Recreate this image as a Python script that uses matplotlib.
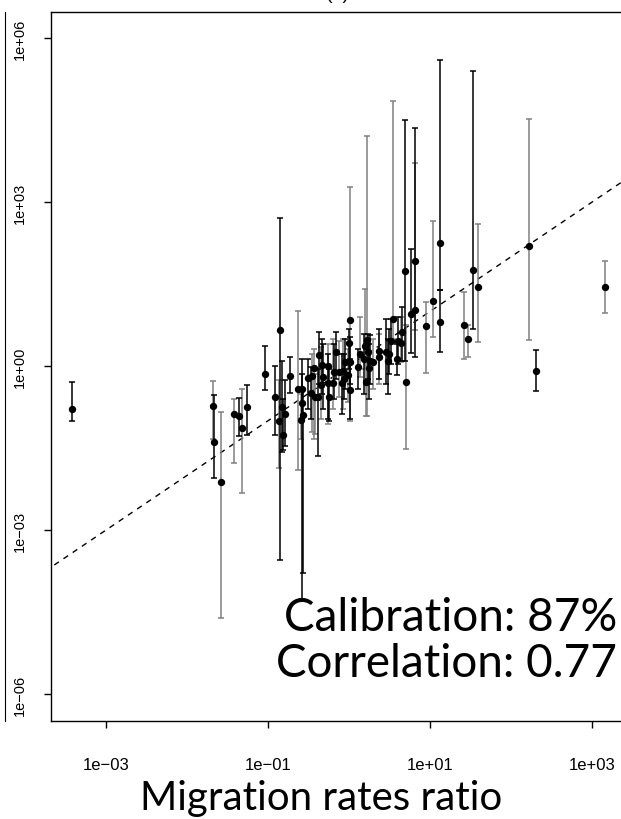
import numpy as np
import matplotlib
matplotlib.use("Agg")
import matplotlib.pyplot as plt

# log10 of the true migration rate ratio (x), estimate (y) and its interval
x_log = [-3.416, -1.680, -1.664, -1.578, -1.421, -1.356, -1.322, -1.261, -1.039, -0.850,
         -0.908, -0.825, -0.859, -0.788, -0.809, -0.730, -0.632, -0.575, -0.582, -0.570,
         -0.590, -0.501, -0.455, -0.430, -0.464, -0.418, -0.385, -0.365, -0.344, -0.319,
         -0.328, -0.254, -0.254, -0.245, -0.200, -0.180, -0.159, -0.126, -0.089, -0.069,
         -0.060, -0.048, -0.007, 0.005, 0.014, 0.010, 0.020, 0.112, 0.137, 0.186,
         0.202, 0.227, 0.236, 0.248, 0.211, 0.260, 0.294, 0.368, 0.375, 0.458,
         0.491, 0.479, 0.519, 0.544, 0.597, 0.609, 0.643, 0.659, 0.692, 0.704,
         0.770, 0.815, 0.815, 0.951, 1.034, 1.127, 1.127, 1.420, 1.465, 1.534,
         1.589, 2.222, 2.312, 3.159]
y_log = [-0.787, -0.732, -1.385, -2.116, -0.873, -0.909, -1.129, -0.744, -0.141, 0.659,
         -0.554, -0.744, -1.006, -0.865, -1.249, -0.183, -0.408, -0.421, -0.677, -0.891,
         -0.975, -0.214, -0.188, -0.042, -0.481, -0.554, -0.554, 0.201, -0.335, -0.196,
         0.018, -0.005, -0.311, -0.554, -0.316, -0.104, 0.256, -0.104, -0.316, -0.091,
         -0.225, 0.068, -0.152, 0.415, 0.836, -0.439, 0.068, -0.018, 0.220, 0.128,
         0.371, 0.481, 0.251, -0.024, -0.298, 0.097, 0.068, 0.280, 0.170, 0.262,
         0.220, 0.091, 0.463, 0.860, 0.134, 0.463, 0.421, 0.627, 1.732, -0.280,
         0.951, 1.915, 1.019, 0.726, 1.194, 2.250, 0.799, 0.750, 0.494, 1.756,
         1.451, 2.195, -0.086, 1.445]
hi_log = [-0.293, -0.269, -0.518, -0.829, -0.591, -0.585, -0.408, -0.348, 0.371, 2.707,
          -0.005, 0.091, -0.256, -0.256, -0.604, 0.177, 1.012, 0.123, -0.146, -0.421,
          -0.512, 0.128, 0.220, 0.311, -0.018, -0.146, -0.055, 0.622, 0.348, 0.402,
          0.494, 0.402, 0.220, -0.055, 0.494, 0.402, 0.622, 0.457, 0.220, 0.494,
          0.220, 0.494, 0.311, 0.677, 3.280, 0.128, 0.530, 0.311, 0.896, 0.585,
          1.409, 4.207, 0.585, 0.402, 0.128, 0.567, 0.494, 0.677, 0.585, 0.860,
          0.677, 0.494, 0.860, 4.853, 0.402, 0.896, 0.896, 1.079, 4.500, 0.755,
          2.146, 4.359, 3.719, 1.171, 2.647, 5.592, 1.396, 1.359, 0.750, 5.396,
          2.603, 4.518, 0.293, 1.926]
lo_log = [-1.006, -1.335, -2.049, -4.597, -1.774, -1.275, -2.318, -1.249, -0.434, -3.549,
          -1.249, -1.568, -1.860, -1.458, -1.537, -0.494, -1.890, -0.969, -4.262, -3.774,
          -1.335, -0.787, -1.207, -1.335, -0.969, -1.244, -1.641, -0.329, -0.969, -0.787,
          -0.512, -1.061, -0.969, -1.006, -0.787, -0.604, -0.238, -0.567, -0.878, -0.787,
          -0.604, -0.421, -0.659, -0.055, -1.001, -0.969, -0.329, -0.421, -0.201, -0.512,
          -0.055, -0.909, -0.238, -0.604, -0.909, -0.329, -0.421, -0.238, -0.329, -0.329,
          -0.146, -0.512, 0.037, 0.494, -0.165, 0.037, 0.073, 0.091, 0.086, -1.518,
          0.238, 0.170, 0.659, -0.128, 0.536, 1.396, 0.251, 0.123, 0.177, 0.677,
          0.434, 0.476, -0.452, 0.975]
# interval colour as seen in the picture: k = black, g = grey
bar_col = list("kgkggkgkkk"
               "kkgkkkgkkk"
               "gkggkgkkgk"
               "kgkkgkkgkg"
               "kkgkgkkkgk"
               "ggkkgkgkgk"
               "kkkgkkgkkg"
               "kkgggkkggk"
               "ggkg")

x_ticks = [1e-3, 1e-1, 1e1, 1e3]
x_tick_labels = ["1e\u221203", "1e\u221201", "1e+01", "1e+03"]
y_ticks = [1e-6, 1e-3, 1e0, 1e3, 1e6]
y_tick_labels = ["1e\u221206", "1e\u221203", "1e+00", "1e+03", "1e+06"]

x = 10 ** np.array(x_log)
y = 10 ** np.array(y_log)
hi = 10 ** np.array(hi_log)
lo = 10 ** np.array(lo_log)
col = np.array(bar_col)

fig = plt.figure(figsize=(6.21, 8.2), dpi=100)

# right edge of the neighbouring panel, cut by the crop
left = fig.add_axes([-0.5, 0.1199, 0.5 + 5 / 621, 0.8646])
for s in ["top", "bottom", "left"]:
    left.spines[s].set_visible(False)
left.set_xticks([])
left.set_yticks([])

ax = fig.add_axes([0.0816, 0.1199, 0.9269, 0.8646])
ax.set_xscale("log")
ax.set_yscale("log")
ax.set_xlim(10 ** -3.678, 10 ** 3.422)
ax.set_ylim(10 ** -6.48, 10 ** 6.48)

# identity line
ax.plot([1e-5, 1e5], [1e-5, 1e5], color="black", lw=1, ls=(0, (4, 4)))

for c, ec in [("g", "#808080"), ("k", "black")]:
    m = col == c
    ax.errorbar(x[m], y[m], yerr=[y[m] - lo[m], hi[m] - y[m]], fmt="none",
                ecolor=ec, elinewidth=1.1, capsize=2.5, capthick=1.1)
ax.plot(x, y, "o", color="black", ms=5.3, mew=0)

ax.set_xticks(x_ticks)
ax.set_xticklabels(x_tick_labels, fontsize=12, family="Liberation Sans")
ax.set_yticks(y_ticks)
ax.set_yticklabels(y_tick_labels, fontsize=10.5, family="Liberation Sans",
                   rotation=90, va="center")
ax.minorticks_off()
ax.tick_params(axis="x", length=5, width=1, pad=21)
ax.tick_params(axis="y", length=5, width=1, pad=12)
for s in ax.spines.values():
    s.set_linewidth(1)

fig.text(617 / 621, 1 - 631 / 820, "Calibration: 87%", ha="right", va="baseline",
         fontsize=33, family="Lato")
fig.text(617 / 621, 1 - 677 / 820, "Correlation: 0.77", ha="right", va="baseline",
         fontsize=33, family="Lato")
fig.text(321 / 621, 1 - 810 / 820, "Migration rates ratio", ha="center", va="baseline",
         fontsize=29, family="Lato")
# panel title, almost entirely above the crop
fig.text(338 / 621, 1 + 1 / 820, "(b)", ha="center", va="baseline", fontsize=14,
         family="Liberation Sans")

fig.savefig("out.png", dpi=100)
